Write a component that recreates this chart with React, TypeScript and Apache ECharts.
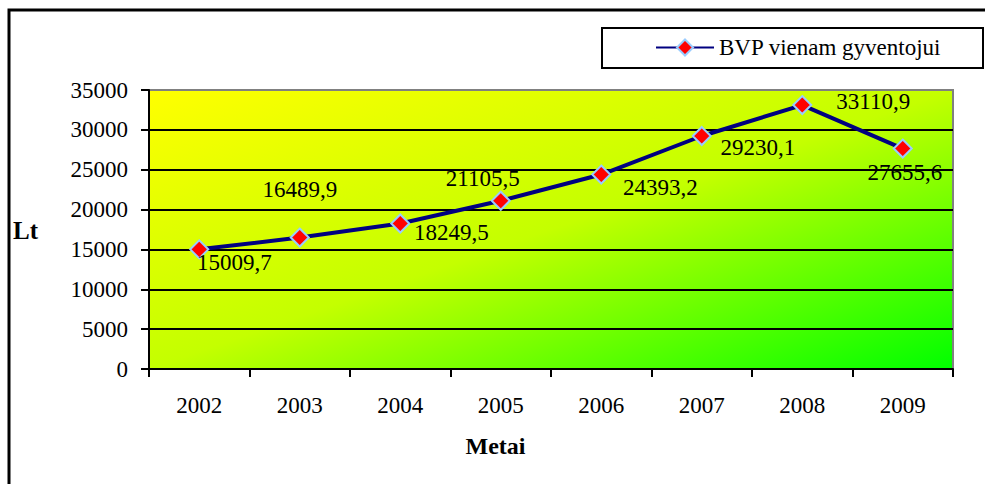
import React, { useEffect, useRef } from "react";
import * as echarts from "echarts";

const years = ["2002", "2003", "2004", "2005", "2006", "2007", "2008", "2009"];
const bvp = [15009.7, 16489.9, 18249.5, 21105.5, 24393.2, 29230.1, 33110.9, 27655.6];
const labelOffsets: [number, number][] = [
  [35, 13],
  [0, -48],
  [51, 9],
  [-18, -22],
  [59, 13],
  [56, 12],
  [71, -4],
  [2, 24],
];
const seriesName = "BVP vienam gyventojui";
const yTicks = { min: 0, max: 35000, interval: 5000 };

const FONT = "'Liberation Serif', 'Times New Roman', serif";

export default function App() {
  const ref = useRef<HTMLDivElement>(null);
  useEffect(() => {
    document.body.style.margin = "0";
    if (!ref.current) return;
    const chart = echarts.init(ref.current, null, { renderer: "svg" });
    chart.setOption({
      animation: false,
      backgroundColor: "#ffffff",
      textStyle: { fontFamily: FONT },
      grid: {
        left: 149,
        top: 90,
        right: 32,
        bottom: 115,
        show: true,
        borderColor: "#808080",
        borderWidth: 2,
        backgroundColor: new echarts.graphic.LinearGradient(0, 0, 1, 1, [
          { offset: 0, color: "#ffff00" },
          { offset: 0.5, color: "#c4ff00" },
          { offset: 1, color: "#00ff00" },
        ]),
      },
      legend: {
        left: 655,
        top: 36,
        padding: 0,
        itemWidth: 58,
        itemHeight: 20,
        textStyle: { fontFamily: FONT, fontSize: 23, color: "#000" },
        data: [seriesName],
      },
      xAxis: {
        type: "category",
        data: years,
        boundaryGap: true,
        axisLine: { show: true, lineStyle: { color: "#000", width: 2 } },
        axisTick: { show: true, interval: 0, length: 8, lineStyle: { color: "#000", width: 2 } },
        axisLabel: { fontFamily: FONT, fontSize: 23, color: "#000", margin: 25, interval: 0 },
        splitLine: { show: false },
      },
      yAxis: {
        type: "value",
        min: yTicks.min,
        max: yTicks.max,
        interval: yTicks.interval,
        axisLine: { show: true, lineStyle: { color: "#000", width: 2 } },
        axisTick: { show: true, length: 8, lineStyle: { color: "#000", width: 2 } },
        axisLabel: {
          fontFamily: FONT,
          fontSize: 23,
          color: "#000",
          margin: 21,
          formatter: (v: number) => String(v),
        },
        splitLine: { show: true, showMaxLine: false, lineStyle: { color: "#000", width: 2 } },
      },
      graphic: [
        {
          type: "rect",
          z: 100,
          shape: { x: 9, y: 10, width: 1000, height: 500 },
          style: { fill: "none", stroke: "#000", lineWidth: 3 },
        },
        {
          type: "rect",
          z: 100,
          shape: { x: 602, y: 28, width: 381, height: 40 },
          style: { fill: "none", stroke: "#000", lineWidth: 2 },
        },
        {
          type: "text",
          x: 495.5,
          y: 446,
          style: {
            text: "Metai",
            fontFamily: FONT,
            fontSize: 24,
            fontWeight: "bold",
            fill: "#000",
            align: "center",
            verticalAlign: "middle",
          },
        },
        {
          type: "text",
          x: 13,
          y: 230,
          style: {
            text: "Lt",
            fontFamily: FONT,
            fontSize: 25,
            fontWeight: "bold",
            fill: "#000",
            align: "left",
            verticalAlign: "middle",
          },
        },
      ],
      series: [
        {
          name: seriesName,
          type: "line",
          data: bvp.map((v, i) => ({ value: v, label: { offset: labelOffsets[i] } })),
          lineStyle: { color: "#000080", width: 4 },
          symbol: "diamond",
          symbolSize: 18,
          itemStyle: { color: "#ff0000", borderColor: "#99ccff", borderWidth: 2 },
          label: {
            show: true,
            position: "inside",
            fontFamily: FONT,
            fontSize: 23,
            color: "#000",
            formatter: (p: any) => String(p.value).replace(".", ","),
          },
          emphasis: { disabled: true },
        },
      ],
    });
    return () => chart.dispose();
  }, []);
  return <div ref={ref} style={{ width: 985, height: 484 }} />;
}
